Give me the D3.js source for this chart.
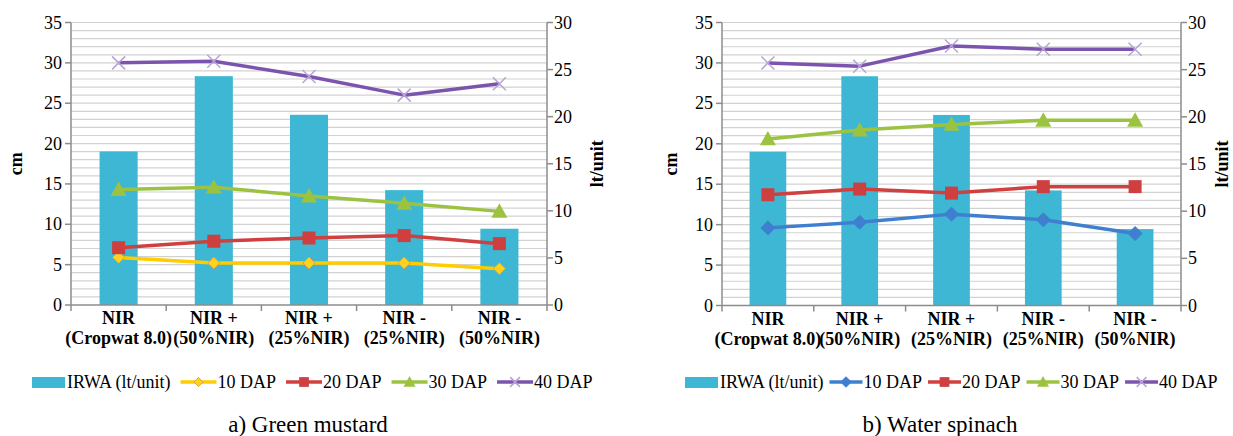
<!DOCTYPE html>
<html>
<head>
<meta charset="utf-8">
<script src="https://cdn.jsdelivr.net/npm/d3@7"></script>
<style>
  body { margin: 0; background: #fff; }
</style>
</head>
<body>
<div id="chart"></div>
<script>
// treatments (two-line tick labels)
var categories = ["c1", "c2", "c3", "c4", "c5"]
var catLabels = [
  ["NIR", "(Cropwat 8.0)"],
  ["NIR +", "(50%NIR)"],
  ["NIR +", "(25%NIR)"],
  ["NIR -", "(25%NIR)"],
  ["NIR -", "(50%NIR)"]
]

// IRWA bars, lt/unit (right axis)
var irwa = [16.3, 24.3, 20.2, 12.2, 8.1]

// plant height, cm (left axis) - green mustard
var mustard10 = [5.9, 5.2, 5.2, 5.2, 4.5]
var mustard20 = [7.1, 7.9, 8.3, 8.6, 7.6]
var mustard30 = [14.3, 14.6, 13.5, 12.6, 11.6]
var mustard40 = [30.0, 30.2, 28.3, 26.0, 27.4]

// water spinach
var spinach10 = [9.6, 10.3, 11.3, 10.6, 8.9]
var spinach20 = [13.7, 14.4, 13.9, 14.7, 14.7]
var spinach30 = [20.6, 21.7, 22.4, 22.9, 22.9]
var spinach40 = [30.0, 29.6, 32.1, 31.7, 31.7]

var leftTicks = [0, 5, 10, 15, 20, 25, 30, 35]
var rightTicks = [0, 5, 10, 15, 20, 25, 30]
var seriesNames = ["10 DAP", "20 DAP", "30 DAP", "40 DAP"]

var fs = "18px"

var svg = d3.select("#chart")
  .append("svg")
  .attr("width", 1233)
  .attr("height", 436)
  .style("font-family", "'Times New Roman', 'Liberation Serif', 'DejaVu Serif', serif")

var barColor = "#3db7d3"

function marker(g, type, x, y, fill, stroke, s) {
  if (type == "diamond") {
    g.append("path")
      .attr("d", "M" + x + "," + (y - s) + "L" + (x + s) + "," + y + "L" + x + "," + (y + s) + "L" + (x - s) + "," + y + "Z")
      .attr("fill", fill).attr("stroke", stroke).attr("stroke-width", 1)
  } else if (type == "square") {
    g.append("rect")
      .attr("x", x - s).attr("y", y - s).attr("width", 2 * s).attr("height", 2 * s)
      .attr("fill", fill)
  } else if (type == "triangle") {
    g.append("path")
      .attr("d", "M" + x + "," + (y - s) + "L" + (x + s) + "," + (y + s * 0.8) + "L" + (x - s) + "," + (y + s * 0.8) + "Z")
      .attr("fill", fill)
  } else {
    g.append("path")
      .attr("d", "M" + (x - s) + "," + (y - s) + "L" + (x + s) + "," + (y + s) + "M" + (x - s) + "," + (y + s) + "L" + (x + s) + "," + (y - s))
      .attr("fill", "none").attr("stroke", stroke).attr("stroke-width", 1.5)
  }
}

function drawPanel(p) {
  var g = svg.append("g")

  var xScale = d3.scaleBand().domain(categories).range([p.left, p.right])
  var yLeft = d3.scaleLinear().domain([0, 35]).range([p.bottom, p.top])
  var yRight = d3.scaleLinear().domain([0, 30]).range([p.bottom, p.top])

  // gridlines every 1 cm
  g.selectAll(".grid")
    .data(d3.range(1, 36))
    .enter().append("line")
    .attr("x1", p.left)
    .attr("x2", p.right)
    .attr("y1", function(d) { return yLeft(d) })
    .attr("y2", function(d) { return yLeft(d) })
    .attr("stroke", "#d2d2d2")
    .attr("stroke-width", 1.2)

  // bars
  g.selectAll(".bar")
    .data(irwa)
    .enter().append("rect")
    .attr("x", function(d, i) { return xScale(categories[i]) + xScale.bandwidth() * 0.3 })
    .attr("width", xScale.bandwidth() * 0.4)
    .attr("y", function(d) { return yRight(d) })
    .attr("height", function(d) { return p.bottom - yRight(d) })
    .attr("fill", barColor)

  // axes
  var axisColor = "#8c8c8c"
  g.append("line").attr("x1", p.left).attr("x2", p.left).attr("y1", p.top).attr("y2", p.bottom)
    .attr("stroke", axisColor).attr("stroke-width", 1.5)
  g.append("line").attr("x1", p.right).attr("x2", p.right).attr("y1", p.top).attr("y2", p.bottom)
    .attr("stroke", axisColor).attr("stroke-width", 1.5)
  g.append("line").attr("x1", p.left).attr("x2", p.right).attr("y1", p.bottom).attr("y2", p.bottom)
    .attr("stroke", axisColor).attr("stroke-width", 1.5)

  g.selectAll(".ltick")
    .data(leftTicks)
    .enter().append("line")
    .attr("x1", p.left - 6).attr("x2", p.left)
    .attr("y1", function(d) { return yLeft(d) })
    .attr("y2", function(d) { return yLeft(d) })
    .attr("stroke", axisColor).attr("stroke-width", 1.5)

  g.selectAll(".ltext")
    .data(leftTicks)
    .enter().append("text")
    .attr("x", p.left - 9)
    .attr("y", function(d) { return yLeft(d) + 6 })
    .style("font-size", fs)
    .style("text-anchor", "end")
    .text(function(d) { return d })

  g.selectAll(".rtick")
    .data(rightTicks)
    .enter().append("line")
    .attr("x1", p.right).attr("x2", p.right + 6)
    .attr("y1", function(d) { return yRight(d) })
    .attr("y2", function(d) { return yRight(d) })
    .attr("stroke", axisColor).attr("stroke-width", 1.5)

  g.selectAll(".rtext")
    .data(rightTicks)
    .enter().append("text")
    .attr("x", p.right + 7)
    .attr("y", function(d) { return yRight(d) + 6 })
    .style("font-size", fs)
    .text(function(d) { return d })

  // category ticks
  g.selectAll(".xtick")
    .data(d3.range(0, 6))
    .enter().append("line")
    .attr("x1", function(d) { return p.left + d * xScale.step() })
    .attr("x2", function(d) { return p.left + d * xScale.step() })
    .attr("y1", p.bottom)
    .attr("y2", p.bottom + 6)
    .attr("stroke", axisColor).attr("stroke-width", 1.5)

  g.selectAll(".xtext")
    .data(catLabels)
    .enter().append("text")
    .attr("x", function(d, i) { return xScale(categories[i]) + xScale.bandwidth() / 2 })
    .attr("y", p.bottom + 19)
    .style("font-size", fs)
    .style("font-weight", "bold")
    .style("text-anchor", "middle")
    .each(function(d) {
      d3.select(this).append("tspan").attr("x", d3.select(this).attr("x")).text(d[0])
      d3.select(this).append("tspan").attr("x", d3.select(this).attr("x")).attr("dy", 20).text(d[1])
    })

  // axis titles
  var midY = (p.top + p.bottom) / 2
  g.append("text")
    .attr("transform", "translate(" + p.cmX + "," + midY + ") rotate(-90)")
    .style("font-size", fs).style("font-weight", "bold").style("text-anchor", "middle")
    .text("cm")
  g.append("text")
    .attr("transform", "translate(" + p.ltX + "," + midY + ") rotate(-90)")
    .style("font-size", fs).style("font-weight", "bold").style("text-anchor", "middle")
    .text("lt/unit")

  // lines
  var line = d3.line()
    .x(function(d, i) { return xScale(categories[i]) + xScale.bandwidth() / 2 })
    .y(function(d) { return yLeft(d) })

  p.series.forEach(function(s) {
    g.append("path")
      .datum(s.values)
      .attr("d", line)
      .attr("fill", "none")
      .attr("stroke", s.color)
      .attr("stroke-width", 3.5)
      .attr("stroke-linejoin", "round")
    s.values.forEach(function(v, i) {
      marker(g, s.shape, xScale(categories[i]) + xScale.bandwidth() / 2, yLeft(v), s.fill, s.stroke, s.size)
    })
  })

  // legend
  var lg = svg.append("g")
  var ly = 382
  var cx = p.legendX
  lg.append("rect").attr("x", cx).attr("y", ly - 5).attr("width", 33).attr("height", 11).attr("fill", barColor)
  cx += 35
  var t = lg.append("text").attr("x", cx).attr("y", ly + 6).style("font-size", fs).text("IRWA (lt/unit)")
  cx += t.node().getComputedTextLength() + p.legendGap
  p.series.forEach(function(s, k) {
    lg.append("line").attr("x1", cx).attr("x2", cx + p.legendLine).attr("y1", ly).attr("y2", ly)
      .attr("stroke", s.color).attr("stroke-width", 3.5)
    marker(lg, s.shape, cx + p.legendLine / 2, ly, s.fill, s.stroke, s.size * 0.75)
    cx += p.legendLine + 1
    var tt = lg.append("text").attr("x", cx).attr("y", ly + 6).style("font-size", fs).text(seriesNames[k])
    cx += tt.node().getComputedTextLength() + p.legendGap
  })

  svg.append("text")
    .attr("x", p.captionX)
    .attr("y", 432)
    .style("font-size", "23px")
    .style("text-anchor", "middle")
    .text(p.caption)
}

drawPanel({
  left: 71, right: 547, top: 22.5, bottom: 305,
  cmX: 22, ltX: 603, legendX: 32, legendLine: 36, legendGap: 10,
  captionX: 308, caption: "a) Green mustard",
  series: [
    { values: mustard10, color: "#ffcc00", shape: "diamond", fill: "#ffd21f", stroke: "#e0a23a", size: 6 },
    { values: mustard20, color: "#d0403f", shape: "square", fill: "#cf3f3f", stroke: "none", size: 6.5 },
    { values: mustard30, color: "#9bc341", shape: "triangle", fill: "#9bc341", stroke: "none", size: 8 },
    { values: mustard40, color: "#7b54ad", shape: "x", fill: "none", stroke: "#b7a3d6", size: 6.5 }
  ]
})

drawPanel({
  left: 722, right: 1181, top: 22.5, bottom: 305.5,
  cmX: 677, ltX: 1228, legendX: 685, legendLine: 33, legendGap: 6,
  captionX: 940, caption: "b) Water spinach",
  series: [
    { values: spinach10, color: "#3f7fd0", shape: "diamond", fill: "#3f7fd0", stroke: "#3f7fd0", size: 7 },
    { values: spinach20, color: "#d0403f", shape: "square", fill: "#cf3f3f", stroke: "none", size: 6.5 },
    { values: spinach30, color: "#9bc341", shape: "triangle", fill: "#9bc341", stroke: "none", size: 8 },
    { values: spinach40, color: "#7b54ad", shape: "x", fill: "none", stroke: "#b7a3d6", size: 6.5 }
  ]
})
</script>
</body>
</html>
